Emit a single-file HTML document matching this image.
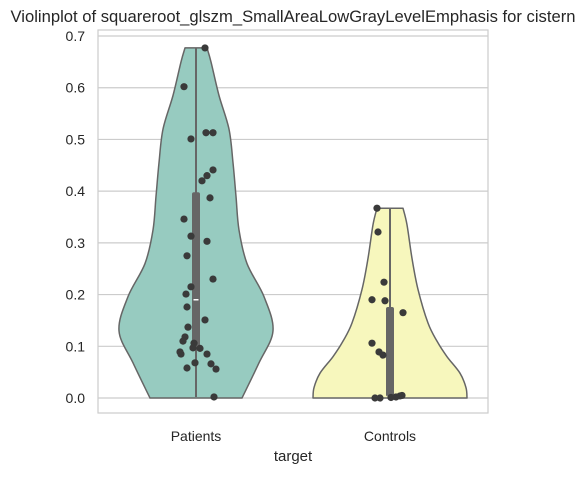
<!DOCTYPE html>
<html><head><meta charset="utf-8"><style>
body{margin:0;background:#fff;font-family:"Liberation Sans",Arial,sans-serif}
svg text{font-family:"Liberation Sans",Arial,sans-serif;fill:#262626}
</style></head><body>
<svg id="c" width="586" height="473" xmlns="http://www.w3.org/2000/svg"></svg>
<script>
const categories=["Patients","Controls"];
const colors=["#97cbc0","#f7f7bd"];
const yTicks=[0,0.1,0.2,0.3,0.4,0.5,0.6,0.7];
const patientsVals=[0.677,0.602,0.501,0.513,0.513,0.441,0.430,0.420,0.387,0.346,0.313,0.303,0.275,0.230,0.215,0.201,0.176,0.151,0.137,0.118,0.110,0.106,0.097,0.096,0.089,0.085,0.085,0.068,0.058,0.066,0.056,0.002];
const patientsJit=[9,-12,-5,10,17,17,11,6,14,-12,-5,11,-9,17,-5,-10,-9,9,-8,-11,-13,-2,-3,4,-16,-15,11,-1,-9,15,20,18];
const controlsVals=[0.367,0.321,0.224,0.190,0.188,0.165,0.106,0.089,0.083,0.0,0.0,0.001,0.002,0.004,0.005];
const controlsJit=[-13,-12,-6,-18,-5,13,-18,-11,-7,-15,-10,1,6,10,12];
const patientsDensV=[0,0.068,0.13,0.196,0.26,0.325,0.39,0.455,0.52,0.585,0.65,0.677];
const patientsDens=[46,63,77,68,51,43,40,37,33,23,15,11];
const controlsDensV=[0,0.02,0.048,0.08,0.11,0.145,0.21,0.27,0.335,0.367];
const controlsDens=[77,76,70,57,47,38,28,22,17,13];
const boxes=[[0.093,0.398,0.19],[0.003,0.176,0.003]];

const svg=document.getElementById('c');const NS='http://www.w3.org/2000/svg';
const X0=98,X1=488,Y0=30,Y1=413;
const y=v=>398-v*517.1;
const xc=i=>196+i*194;
function mk(t,a,p){const e=document.createElementNS(NS,t);for(const k in a)e.setAttribute(k,a[k]);(p||svg).appendChild(e);return e;}
let frame=mk('rect',{x:X0,y:Y0,width:X1-X0,height:Y1-Y0,fill:'#fff',stroke:'#cccccc','stroke-width':1.2});


yTicks.forEach(t=>{
 let g=mk('line',{x1:X0,x2:X1,y1:y(t),y2:y(t),stroke:'#cccccc','stroke-width':1.2});
 
 
 let tx=mk('text',{x:85,y:y(t)+5,'text-anchor':'end','font-size':14});tx.textContent=t.toFixed(1);
 
 
});
const dv=[patientsDensV,controlsDensV],dw=[patientsDens,controlsDens],vals=[patientsVals,controlsVals],jit=[patientsJit,controlsJit];
categories.forEach((c,i)=>{
 const cx=xc(i),V=dv[i],W=dw[i];
 const pts=V.map((v,k)=>[cx+W[k],y(v)]);
 const lpts=V.map((v,k)=>[cx-W[k],y(v)]).reverse();
 function smooth(p){let d='';for(let k=0;k<p.length;k++){if(k==0){d+='L'+p[0][0]+','+p[0][1];continue;}
  const p0=p[Math.max(k-2,0)],p1=p[k-1],p2=p[k],p3=p[Math.min(k+1,p.length-1)];
  d+=`C${p1[0]+(p2[0]-p0[0])/6},${p1[1]+(p2[1]-p0[1])/6} ${p2[0]-(p3[0]-p1[0])/6},${p2[1]-(p3[1]-p1[1])/6} ${p2[0]},${p2[1]}`;}return d;}
 let d='M'+(cx-W[0])+','+y(V[0])+smooth(pts)+smooth(lpts)+'Z';
 let vp=mk('path',{d:d,fill:colors[i],stroke:'#666','stroke-width':1.5,'stroke-linejoin':'round'});
 
 
 const mn=Math.min(...vals[i]),mx=Math.max(...vals[i]);
 let wl=mk('line',{x1:cx,x2:cx,y1:y(mn),y2:y(mx),stroke:'#666','stroke-width':2});
 
 
 const b=boxes[i];
 let br=mk('rect',{x:cx-4,y:y(b[1]),width:8,height:y(b[0])-y(b[1]),fill:'#666',rx:2});
 
 
 let md=mk('line',{x1:cx-2.5,x2:cx+2.5,y1:y(b[2]),y2:y(b[2]),stroke:'#fff','stroke-width':1.5});
 
 
 vals[i].forEach((v,k)=>{
  let p=mk('circle',{cx:cx+jit[i][k],cy:y(v),r:3.6,fill:'#3a3a3a'});
  
  
 });
 let t=mk('text',{x:cx,y:441,'text-anchor':'middle','font-size':14});t.textContent=c;
 
 
});
let xl=mk('text',{x:293,y:461,'text-anchor':'middle','font-size':15});xl.textContent='target';


let ti=mk('text',{x:293,y:22,'text-anchor':'middle','font-size':16.5,textLength:565,lengthAdjust:'spacingAndGlyphs'});ti.textContent='Violinplot of squareroot_glszm_SmallAreaLowGrayLevelEmphasis for cistern';


</script>
</body></html>
